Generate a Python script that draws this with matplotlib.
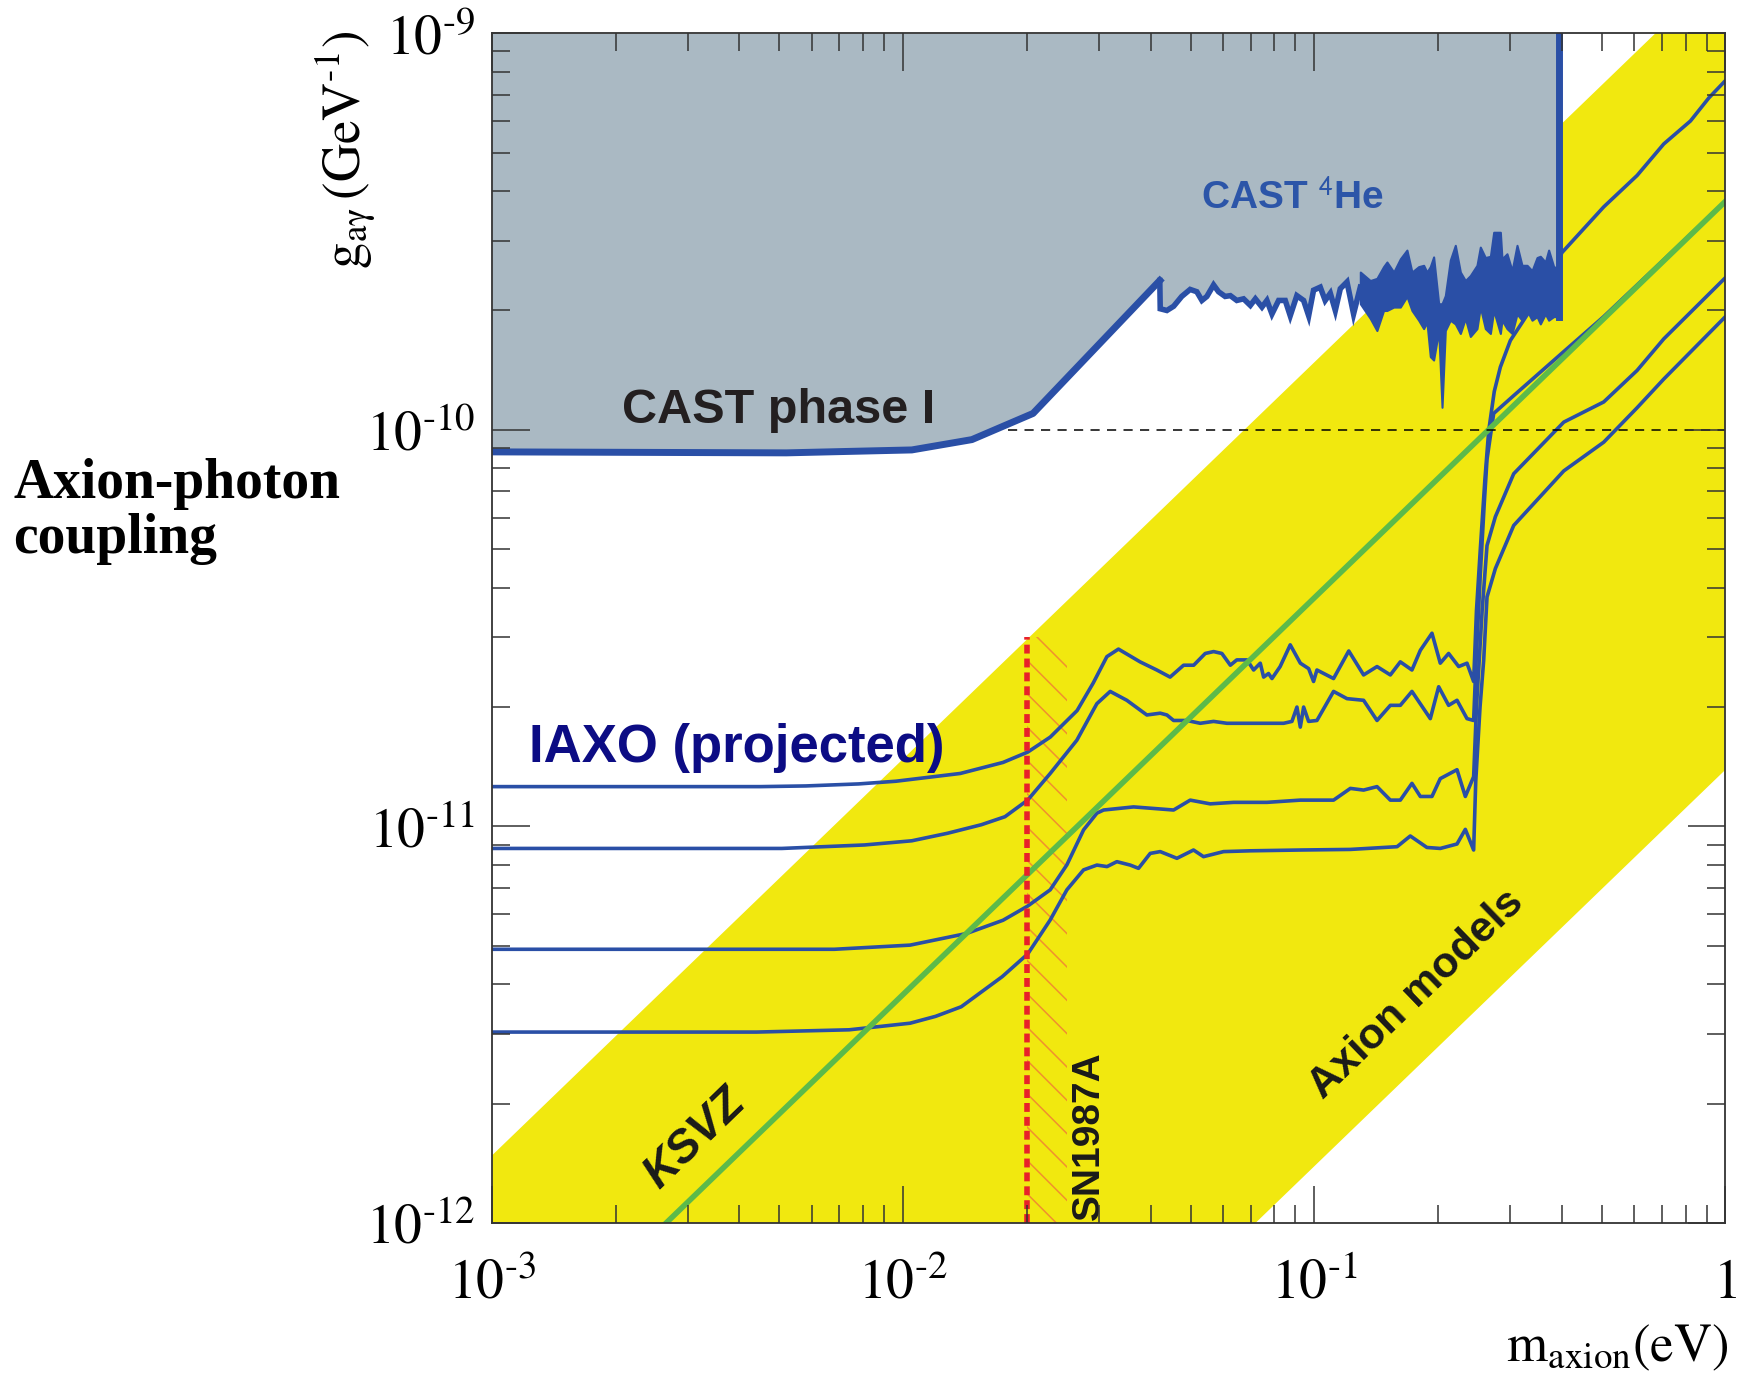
import numpy as np
import matplotlib
matplotlib.use("Agg")
import matplotlib.pyplot as plt
from matplotlib.patches import Rectangle
from matplotlib.ticker import NullFormatter

plt.rcParams['mathtext.fontset'] = 'stix'
plt.rcParams['hatch.linewidth'] = 1.1

YELLOW = '#f1e80f'
GRAY = '#aab9c3'
BLUE = '#2a4fa6'
GREEN = '#5cba4a'
RED = '#e8202a'
ORANGE = '#f0902e'

# axion model band and KSVZ line, g in GeV^-1, m in eV
band_m = [1e-3, 1.0]
band_lower = [1.39e-14, 1.39e-11]
band_upper = [1.48e-12, 1.48e-9]

ksvz_m = [1e-3, 1.0]
ksvz_g = [3.77e-13, 3.77e-10]

# SN1987A bound
sn_m = 0.02
sn_m_end = 0.025
sn_g_top = 3.0e-11

# CAST phase I limit
cast1_m = [1e-3, 5.2e-3, 0.0105, 0.0147, 0.0207, 0.0421]
cast1_g = [8.8e-11, 8.75e-11, 8.9e-11, 9.45e-11, 1.10e-10, 2.38e-10]

# CAST 4He limit, low mass part
he_line = [
    (0.0422, 2.02e-10), (0.0438, 2.00e-10), (0.0455, 2.05e-10), (0.0476, 2.17e-10),
    (0.0499, 2.26e-10), (0.0518, 2.23e-10), (0.0533, 2.12e-10), (0.0548, 2.17e-10),
    (0.0569, 2.32e-10), (0.0585, 2.23e-10), (0.0607, 2.17e-10), (0.0625, 2.18e-10),
    (0.0648, 2.12e-10), (0.0673, 2.14e-10), (0.0699, 2.06e-10), (0.0719, 2.14e-10),
    (0.0746, 2.04e-10), (0.0767, 2.12e-10), (0.0789, 1.96e-10), (0.0819, 2.12e-10),
    (0.0850, 2.12e-10), (0.0874, 1.94e-10), (0.0907, 2.18e-10), (0.0942, 2.12e-10),
    (0.0969, 1.94e-10), (0.0996, 2.25e-10), (0.1034, 2.29e-10), (0.1063, 2.12e-10),
    (0.1094, 2.21e-10), (0.1125, 2.00e-10), (0.1157, 2.27e-10), (0.1201, 2.36e-10),
    (0.1246, 1.96e-10), (0.1294, 2.29e-10),
]

# CAST 4He limit, dense high mass part: (m, upper, lower)
he_band = [
    (0.1294, 2.50e-10, 2.08e-10), (0.1368, 2.38e-10, 1.91e-10), (0.1420, 2.41e-10, 1.78e-10),
    (0.1474, 2.58e-10, 2.00e-10), (0.1502, 2.65e-10, 2.00e-10), (0.1560, 2.50e-10, 2.04e-10),
    (0.1619, 2.70e-10, 2.04e-10), (0.1680, 2.84e-10, 2.17e-10), (0.1728, 2.50e-10, 2.00e-10),
    (0.1794, 2.58e-10, 1.89e-10), (0.1845, 2.60e-10, 1.80e-10), (0.1879, 2.50e-10, 1.87e-10),
    (0.1915, 2.58e-10, 1.53e-10), (0.1951, 2.73e-10, 1.50e-10), (0.2007, 2.08e-10, 1.78e-10),
    (0.2045, 2.08e-10, 1.14e-10), (0.2083, 2.18e-10, 1.78e-10), (0.2142, 2.68e-10, 1.89e-10),
    (0.2203, 2.92e-10, 1.85e-10), (0.2266, 2.50e-10, 1.75e-10), (0.2330, 2.38e-10, 1.91e-10),
    (0.2396, 2.45e-10, 1.72e-10), (0.2487, 2.60e-10, 1.80e-10), (0.2534, 2.89e-10, 2.04e-10),
    (0.2606, 2.72e-10, 1.80e-10), (0.2681, 2.74e-10, 1.75e-10), (0.2731, 3.15e-10, 2.00e-10),
    (0.2835, 3.15e-10, 1.75e-10), (0.2861, 2.70e-10, 1.89e-10), (0.2942, 2.78e-10, 1.80e-10),
    (0.3027, 2.52e-10, 1.75e-10), (0.3112, 2.92e-10, 1.96e-10), (0.3200, 2.60e-10, 1.89e-10),
    (0.3292, 2.60e-10, 2.00e-10), (0.3385, 2.52e-10, 1.89e-10), (0.3481, 2.72e-10, 1.93e-10),
    (0.3546, 2.74e-10, 1.85e-10), (0.3647, 2.65e-10, 1.96e-10), (0.3715, 2.84e-10, 1.89e-10),
    (0.3821, 2.58e-10, 1.93e-10), (0.3929, 2.55e-10, 1.93e-10),
]
he_edge = 0.3929

# IAXO projected sensitivities
iaxo_a = [
    (1e-3, 1.26e-11), (4.5e-3, 1.26e-11), (5.8e-3, 1.265e-11), (7.8e-3, 1.28e-11),
    (9.6e-3, 1.30e-11), (0.01377, 1.36e-11), (0.0175, 1.45e-11), (0.0201, 1.54e-11),
    (0.0228, 1.68e-11), (0.0265, 1.96e-11), (0.0290, 2.30e-11), (0.0313, 2.68e-11),
    (0.0334, 2.80e-11), (0.0377, 2.60e-11), (0.0414, 2.48e-11), (0.0446, 2.38e-11),
    (0.0481, 2.55e-11), (0.0509, 2.55e-11), (0.0543, 2.73e-11), (0.0569, 2.76e-11),
    (0.0596, 2.73e-11), (0.0625, 2.55e-11), (0.0648, 2.63e-11), (0.0686, 2.63e-11),
    (0.0712, 2.48e-11), (0.0739, 2.58e-11), (0.0753, 2.38e-11), (0.0774, 2.43e-11),
    (0.0789, 2.36e-11), (0.0826, 2.53e-11), (0.0874, 2.87e-11), (0.0925, 2.58e-11),
    (0.0969, 2.50e-11), (0.0996, 2.32e-11), (0.1015, 2.48e-11), (0.1114, 2.36e-11),
    (0.1213, 2.77e-11), (0.1318, 2.41e-11), (0.1421, 2.53e-11), (0.1531, 2.41e-11),
    (0.1619, 2.60e-11), (0.1728, 2.48e-11), (0.1811, 2.78e-11), (0.1933, 3.07e-11),
    (0.2025, 2.58e-11), (0.2122, 2.73e-11), (0.2245, 2.53e-11), (0.2352, 2.58e-11),
    (0.2441, 2.32e-11), (0.2480, 3.5e-11), (0.2534, 5.0e-11), (0.2600, 7.5e-11),
    (0.2656, 9.95e-11), (0.2740, 1.25e-10), (0.2835, 1.44e-10), (0.2998, 1.68e-10),
    (0.3230, 1.89e-10), (0.36, 2.25e-10), (0.4004, 2.80e-10), (0.5058, 3.65e-10),
    (0.6097, 4.38e-10), (0.7079, 5.26e-10), (0.8220, 6.01e-10), (0.9110, 6.87e-10),
    (1.0, 7.6e-10),
]
iaxo_b = [
    (1e-3, 8.8e-12), (5.07e-3, 8.8e-12), (8.06e-3, 8.98e-12), (0.01050, 9.2e-12),
    (0.01282, 9.61e-12), (0.01550, 1.01e-11), (0.01769, 1.058e-11), (0.0201, 1.166e-11),
    (0.02279, 1.36e-11), (0.02646, 1.65e-11), (0.02905, 1.97e-11), (0.0296, 2.04e-11),
    (0.03189, 2.19e-11), (0.0350, 2.08e-11), (0.03916, 1.91e-11), (0.0422, 1.93e-11),
    (0.04381, 1.91e-11), (0.04548, 1.85e-11), (0.0490, 1.85e-11), (0.0528, 1.82e-11),
    (0.05689, 1.84e-11), (0.06131, 1.82e-11), (0.0699, 1.82e-11), (0.08422, 1.82e-11),
    (0.08824, 1.84e-11), (0.09075, 2.00e-11), (0.09247, 1.78e-11), (0.09421, 2.00e-11),
    (0.09687, 1.84e-11), (0.1015, 1.85e-11), (0.1114, 2.19e-11), (0.1201, 2.10e-11),
    (0.1318, 2.08e-11), (0.1421, 1.85e-11), (0.1531, 2.02e-11), (0.1619, 2.02e-11),
    (0.1728, 2.19e-11), (0.1915, 1.87e-11), (0.2007, 2.25e-11), (0.2122, 2.02e-11),
    (0.2224, 2.08e-11), (0.2352, 1.87e-11), (0.2441, 1.85e-11), (0.2470, 2.5e-11),
    (0.2534, 4.33e-11), (0.2590, 6.5e-11), (0.2631, 8.43e-11), (0.2731, 1.10e-10),
    (0.3055, 1.22e-10), (0.40, 1.56e-10), (0.5058, 1.93e-10), (1.0, 3.77e-10),
]
iaxo_c = [
    (1e-3, 4.9e-12), (6.8e-3, 4.9e-12), (0.0104, 5.02e-12), (0.01426, 5.37e-12),
    (0.0175, 5.8e-12), (0.0201, 6.3e-12), (0.02279, 6.92e-12), (0.02502, 8.0e-12),
    (0.02747, 9.8e-12), (0.0296, 1.08e-11), (0.03073, 1.10e-11), (0.03635, 1.12e-11),
    (0.04548, 1.10e-11), (0.04992, 1.165e-11), (0.05584, 1.14e-11), (0.06365, 1.15e-11),
    (0.0767, 1.15e-11), (0.09247, 1.165e-11), (0.1114, 1.165e-11), (0.1224, 1.247e-11),
    (0.1318, 1.235e-11), (0.1421, 1.26e-11), (0.1531, 1.165e-11), (0.1619, 1.165e-11),
    (0.1728, 1.284e-11), (0.1811, 1.19e-11), (0.1933, 1.19e-11), (0.2025, 1.32e-11),
    (0.2224, 1.39e-11), (0.2330, 1.19e-11), (0.2441, 1.335e-11), (0.2480, 2.0e-11),
    (0.2560, 3.5e-11), (0.2631, 5.11e-11), (0.2757, 6.04e-11), (0.3055, 7.75e-11),
    (0.4044, 1.046e-10), (0.5058, 1.176e-10), (0.6097, 1.412e-10), (0.7079, 1.696e-10),
    (1.0, 2.42e-10),
]
iaxo_d = [
    (1e-3, 3.03e-12), (4.4e-3, 3.03e-12), (7.39e-3, 3.07e-12), (0.0104, 3.19e-12),
    (0.01200, 3.32e-12), (0.01385, 3.51e-12), (0.01742, 4.18e-12), (0.0201, 4.77e-12),
    (0.02279, 5.81e-12), (0.02502, 6.92e-12), (0.02747, 7.77e-12), (0.0296, 7.99e-12),
    (0.03133, 7.92e-12), (0.0331, 8.15e-12), (0.03567, 7.99e-12), (0.03737, 7.84e-12),
    (0.0399, 8.55e-12), (0.0422, 8.64e-12), (0.04634, 8.31e-12), (0.05085, 8.72e-12),
    (0.05378, 8.39e-12), (0.06017, 8.64e-12), (0.0699, 8.68e-12), (0.09247, 8.72e-12),
    (0.1224, 8.75e-12), (0.159, 8.89e-12), (0.1712, 9.46e-12), (0.1879, 8.85e-12),
    (0.2025, 8.80e-12), (0.2224, 9.03e-12), (0.233, 9.83e-12), (0.2441, 8.72e-12),
    (0.2470, 1.3e-11), (0.2530, 2.0e-11), (0.2582, 2.62e-11), (0.2631, 3.79e-11),
    (0.2757, 4.47e-11), (0.3055, 5.74e-11), (0.4044, 7.88e-11), (0.5058, 9.31e-11),
    (0.6097, 1.137e-10), (0.7079, 1.343e-10), (1.0, 1.93e-10),
]

x_ticks = [1e-3, 1e-2, 1e-1, 1.0]
x_ticklabels = [r'$10^{\text{-}3}$', r'$10^{\text{-}2}$', r'$10^{\text{-}1}$', r'$1$']
y_ticks = [1e-12, 1e-11, 1e-10, 1e-9]
y_ticklabels = [r'$10^{\text{-}12}$', r'$10^{\text{-}11}$', r'$10^{\text{-}10}$',
                r'$10^{\text{-}9}$']


fig = plt.figure(figsize=(17.42, 13.76), dpi=100)
ax = fig.add_axes([0.2824, 0.1112, 0.7081, 0.8646])
ax.set_xscale('log')
ax.set_yscale('log')
ax.set_xlim(1e-3, 1.0)
ax.set_ylim(1e-12, 1e-9)

# yellow model band and hatched SN1987A strip
ax.fill_between(band_m, band_lower, band_upper, color=YELLOW, lw=0, zorder=1)
ax.add_patch(Rectangle((sn_m, 1e-12), sn_m_end - sn_m, sn_g_top - 1e-12,
                       fill=False, edgecolor=ORANGE, hatch='\\', lw=0, zorder=1.5))

for curve in (iaxo_a, iaxo_b, iaxo_c, iaxo_d):
    m, g = np.array(curve).T
    ax.plot(m, g, color=BLUE, lw=2.6, zorder=2.5, solid_joinstyle='round')

ax.plot(ksvz_m, ksvz_g, color=GREEN, lw=4, zorder=3)

ax.plot([0.018, 1.0], [1e-10, 1e-10], color='k', lw=1.1, dashes=(6, 4.8), zorder=3.5)
ax.plot([sn_m, sn_m], [1e-12, sn_g_top], color=RED, lw=4, dashes=(1.6, 0.9), zorder=3.6)

# CAST excluded region
he_m, he_g = np.array(he_line).T
hb_m, hb_top, hb_bot = np.array(he_band).T
edge_m = np.concatenate([cast1_m, he_m, hb_m])
edge_g = np.concatenate([cast1_g, he_g, hb_top])
ax.fill_between(edge_m, edge_g, 1e-9, color=GRAY, lw=0, zorder=4)

ax.plot(cast1_m, cast1_g, color=BLUE, lw=5, zorder=5, solid_joinstyle='round')
ax.plot(np.concatenate([[cast1_m[-1]], he_m]), np.concatenate([[cast1_g[-1]], he_g]),
        color=BLUE, lw=4, zorder=5, solid_joinstyle='miter')
ax.fill_between(hb_m, hb_bot, hb_top, facecolor=BLUE, edgecolor=BLUE, lw=1.5, zorder=5)
ax.plot([he_edge, he_edge], [hb_bot[-1], 1e-9], color=BLUE, lw=5, zorder=5)

# annotations
ax.text(4.98e-3, 1.038e-10, 'CAST phase I', fontsize=35, fontweight='bold',
        family='Liberation Sans', color='#231f20', ha='center', va='baseline', zorder=6)
ax.text(0.0884, 3.61e-10, r'CAST $^{\mathsf{4}}$He', fontsize=28, fontweight='bold',
        family='Liberation Sans', color='#2c55a8',
        ha='center', va='baseline', zorder=6)
ax.text(3.95e-3, 1.456e-11, 'IAXO (projected)', fontsize=38, fontweight='bold',
        family='Liberation Sans', color='#0c0c84', ha='center', va='baseline', zorder=6)
ax.text(0.02835, 1.66e-12, 'SN1987A', rotation=90, fontsize=28, fontweight='bold',
        family='Liberation Sans', color='#1a1a1a', ha='center', va='center', zorder=6)
ax.text(3.11e-3, 1.63e-12, 'KSVZ', rotation=44, fontsize=33, fontweight='bold',
        style='italic', family='Liberation Sans', color='#1a1a1a',
        ha='center', va='center', rotation_mode='anchor', zorder=6)
ax.text(0.1777, 3.77e-12, 'Axion models', rotation=44, fontsize=31, fontweight='bold',
        family='Liberation Sans', color='#1a1a1a',
        ha='center', va='center', rotation_mode='anchor', zorder=6)

# axes styling
ax.set_xticks(x_ticks)
ax.set_xticklabels(x_ticklabels)
ax.set_yticks(y_ticks)
ax.set_yticklabels(y_ticklabels)
ax.xaxis.set_minor_formatter(NullFormatter())
ax.yaxis.set_minor_formatter(NullFormatter())
ax.tick_params(which='both', direction='in', top=True, right=True,
               labelsize=40, color='#333333', width=1.1)
ax.tick_params(which='major', length=27)
ax.tick_params(which='minor', length=13)
ax.tick_params(axis='x', which='major', pad=24)
ax.tick_params(axis='y', which='major', pad=12)
ax.xaxis.set_zorder(10)
ax.yaxis.set_zorder(10)
for s in ax.spines.values():
    s.set_linewidth(1.3)
    s.set_color('#333333')
    s.set_zorder(10)

fig.text(0.198, 0.891, r'$\mathrm{g_{a\gamma}\,(GeV^{\text{-}1})}$', rotation=90,
         fontsize=38, ha='center', va='center')
fig.text(0.992, 0.0109, r'$\mathrm{m_{axion}(eV)}$', fontsize=38, ha='right', va='baseline')
fig.text(0.0075, 0.6381, 'Axion-photon', fontsize=40, fontweight='bold',
         family='Liberation Serif', va='baseline')
fig.text(0.0075, 0.5981, 'coupling', fontsize=40, fontweight='bold',
         family='Liberation Serif', va='baseline')

fig.savefig('out.png', dpi=100)
